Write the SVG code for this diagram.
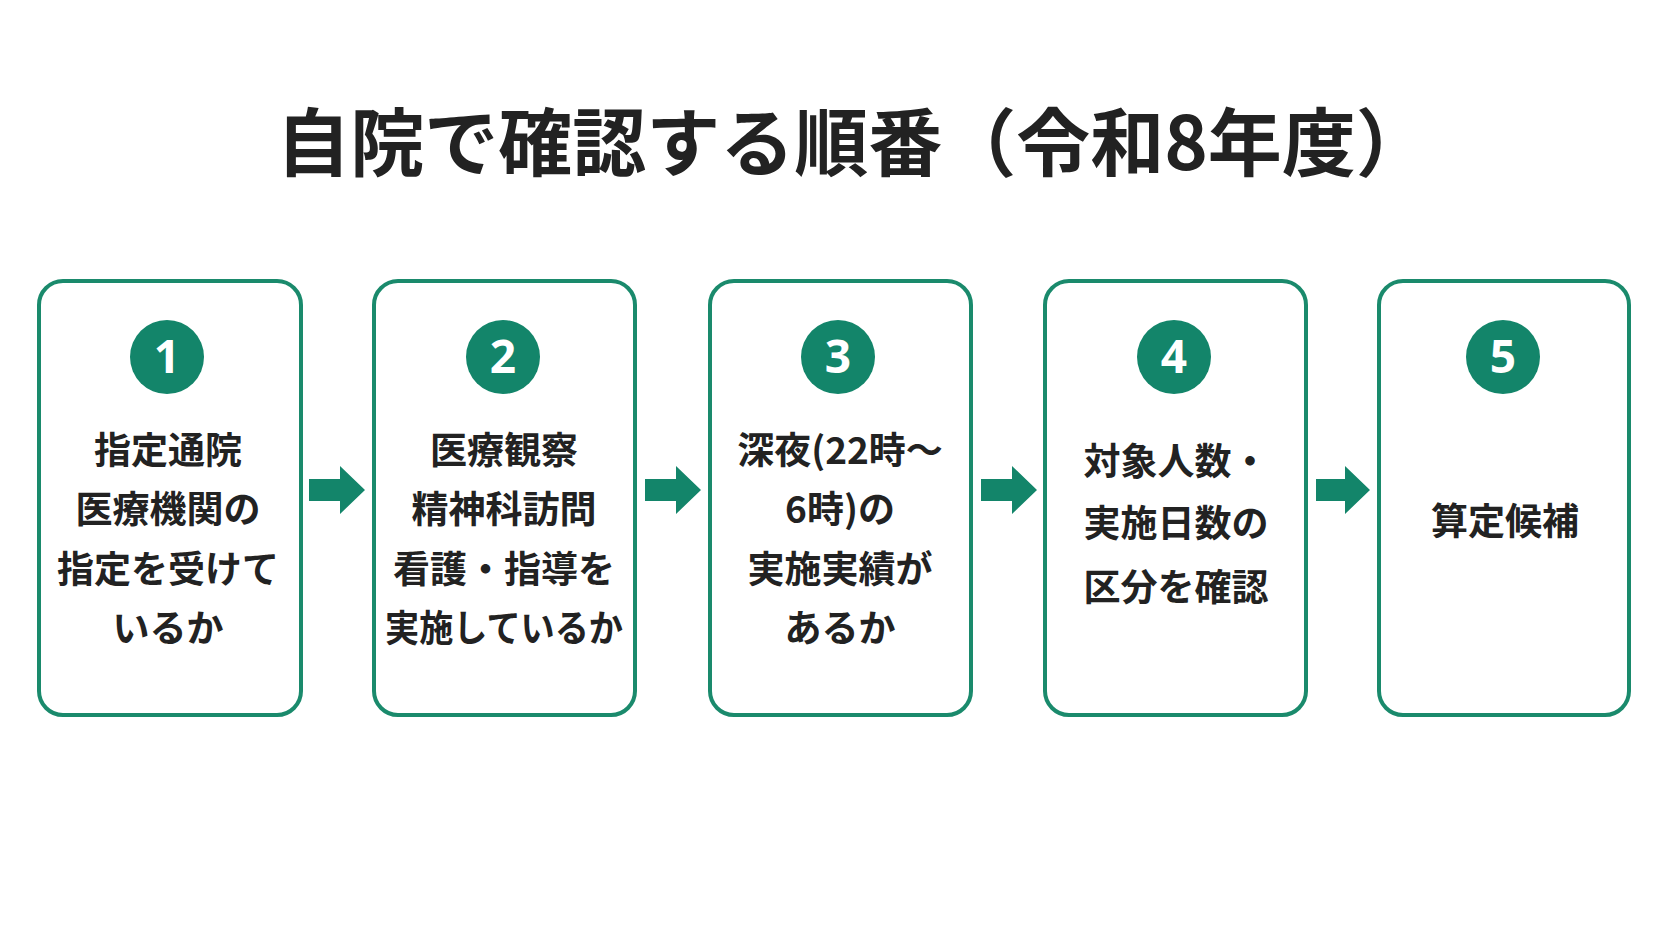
<svg xmlns="http://www.w3.org/2000/svg" width="1672" height="941" viewBox="0 0 1672 941">
<style>
.box{fill:#fff;stroke:#1a8a6c;stroke-width:4}
.c{fill:#13856a}
.n{font-family:"Noto Sans","Liberation Sans",sans-serif;font-weight:700;font-size:46px;fill:#fff;text-anchor:middle}
.t{font-family:"Noto Sans CJK JP",sans-serif;font-weight:700;font-size:37px;fill:#222;text-anchor:middle}
.ar{fill:#13856a}
</style>
<rect width="1672" height="941" fill="#fff"/>
<text x="853" y="170" font-family="Noto Sans CJK JP,sans-serif" font-weight="700" font-size="74" fill="#222" text-anchor="middle">自院で確認する順番（令和8年度）</text>
<g id="connectors">
<polygon class="ar" points="309,479 340,479 340,466 365,490 340,514 340,501 309,501"/>
<polygon class="ar" points="645,479 676,479 676,466 701,490 676,514 676,501 645,501"/>
<polygon class="ar" points="981,479 1012,479 1012,466 1037,490 1012,514 1012,501 981,501"/>
<polygon class="ar" points="1316,479 1345,479 1345,466 1370,490 1345,514 1345,501 1316,501"/>
</g>
<g id="n1"><rect class="box" x="39" y="281" width="262" height="434" rx="24"/><circle class="c" cx="167" cy="357" r="37"/><text class="n" x="167" y="373">1</text>
<text class="t" x="168" y="464">指定通院</text><text class="t" x="168" y="523">医療機関の</text><text class="t" x="168" y="583">指定を受けて</text><text class="t" x="168" y="642">いるか</text></g>
<g id="n2"><rect class="box" x="374" y="281" width="261" height="434" rx="24"/><circle class="c" cx="503" cy="357" r="37"/><text class="n" x="503" y="373">2</text>
<text class="t" x="504" y="464">医療観察</text><text class="t" x="504" y="523">精神科訪問</text><text class="t" x="504" y="583">看護・指導を</text><text class="t" x="504" y="642" textLength="238" lengthAdjust="spacingAndGlyphs">実施しているか</text></g>
<g id="n3"><rect class="box" x="710" y="281" width="261" height="434" rx="24"/><circle class="c" cx="838" cy="357" r="37"/><text class="n" x="838" y="373">3</text>
<text class="t" x="840" y="464">深夜(22時～</text><text class="t" x="840" y="523">6時)の</text><text class="t" x="840" y="583">実施実績が</text><text class="t" x="840" y="642">あるか</text></g>
<g id="n4"><rect class="box" x="1045" y="281" width="261" height="434" rx="24"/><circle class="c" cx="1174" cy="357" r="37"/><text class="n" x="1174" y="373">4</text>
<text class="t" x="1176" y="475">対象人数・</text><text class="t" x="1176" y="537">実施日数の</text><text class="t" x="1176" y="601">区分を確認</text></g>
<g id="n5"><rect class="box" x="1379" y="281" width="250" height="434" rx="24"/><circle class="c" cx="1503" cy="357" r="37"/><text class="n" x="1503" y="373">5</text>
<text class="t" x="1505" y="535">算定候補</text></g>
</svg>
